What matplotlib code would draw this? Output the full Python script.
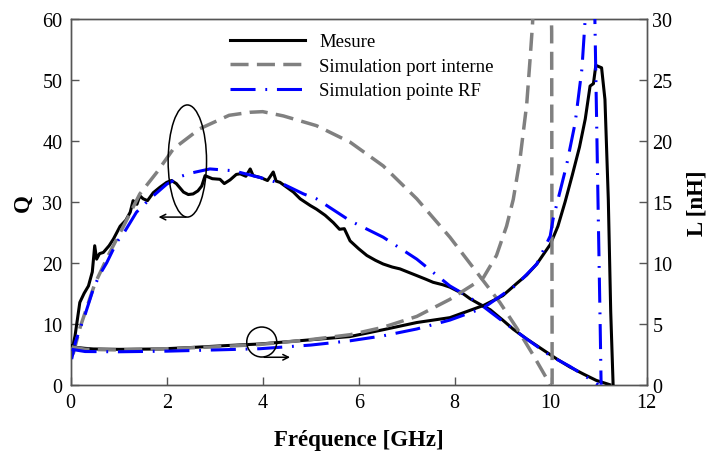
import matplotlib
matplotlib.use("Agg")
import matplotlib.pyplot as plt
from matplotlib.patches import Ellipse
from matplotlib.lines import Line2D

plt.rcParams['font.family'] = ['Liberation Serif', 'DejaVu Serif']

# ---------------- data ----------------
# Quality factor Q (left axis)
mes_q_f = [0.05, 0.09, 0.19, 0.28, 0.37, 0.45, 0.5, 0.54, 0.6, 0.68, 0.8, 0.89, 1.03, 1.15, 1.24,
           1.3, 1.38, 1.44, 1.51, 1.6, 1.72, 1.86, 2.0, 2.1, 2.2, 2.35, 2.45, 2.55, 2.65, 2.73, 2.8,
           2.95, 3.11, 3.2, 3.32, 3.45, 3.53, 3.65, 3.74, 3.8, 3.95, 4.1, 4.22, 4.28, 4.36, 4.5,
           4.64, 4.78, 4.99, 5.12, 5.3, 5.47, 5.6, 5.7, 5.82, 6.0, 6.17, 6.35, 6.51, 6.7, 6.86,
           7.05, 7.21, 7.4, 7.55, 7.75, 7.9, 8.05, 8.18, 8.32, 8.5, 8.74, 9.0, 9.22, 9.5, 9.71,
           9.9, 10.13, 10.4, 10.68, 10.95, 11.23]
mes_q = [6.5, 8.0, 13.5, 15.0, 16.2, 18.5, 22.8, 20.6, 21.5, 21.7, 22.8, 23.9, 26.0, 27.0, 28.3,
         30.2, 29.6, 31.0, 30.5, 30.2, 31.5, 32.4, 33.2, 33.5, 33.0, 31.6, 31.2, 31.3, 31.8, 32.6, 34.3,
         33.8, 33.7, 33.0, 33.6, 34.5, 34.6, 34.2, 35.4, 34.3, 34.0, 33.5, 34.9, 33.4, 33.2, 32.4,
         31.6, 30.5, 29.4, 28.8, 27.8, 26.6, 25.5, 25.6, 23.6, 22.3, 21.2, 20.4, 19.8, 19.3, 19.0,
         18.4, 17.9, 17.3, 16.8, 16.4, 16.0, 15.4, 14.9, 14.1, 13.3, 12.3, 10.6, 9.1, 7.5, 6.4,
         5.4, 4.2, 2.9, 1.75, 0.7, 0.0]

port_q_f = [0.05, 0.2, 0.5, 0.8, 1.1, 1.44, 1.79, 2.14, 2.69, 3.3, 3.74, 4.0, 4.43, 5.12, 5.82,
            6.51, 7.21, 7.9, 8.6, 8.94, 9.3, 9.64, 9.99]
port_q = [5.0, 9.5, 16.5, 21.5, 26.0, 31.3, 34.8, 38.7, 42.0, 44.2, 44.7, 44.8, 44.1, 42.5, 39.8,
          35.9, 30.5, 24.2, 17.0, 13.5, 9.2, 4.8, 0.0]

rf_q_f = [0.02, 0.1, 0.19, 0.3, 0.47, 0.6, 0.75, 0.96, 1.1, 1.37, 1.65, 2.0, 2.3, 2.55, 2.9, 3.39,
          3.94, 4.43, 4.85, 5.12, 5.82, 6.51, 7.21, 7.9, 8.25, 8.6, 9.0, 9.5, 10.0, 10.4, 10.7, 10.99]
rf_q = [4.2, 7.0, 9.1, 11.5, 15.7, 18.0, 20.0, 23.4, 24.8, 28.3, 30.5, 32.9, 34.2, 34.8, 35.4, 35.1,
        34.0, 32.9, 31.3, 30.5, 26.9, 24.2, 20.6, 16.2, 14.6, 12.8, 10.4, 7.5, 4.7, 3.0, 1.5, 0.0]

# Inductance L [nH] (right axis)
mes_l_f = [0.02, 0.09, 0.3, 0.47, 1.0, 1.86, 2.5, 3.2, 3.94, 4.6, 5.2, 5.82, 6.5, 7.21, 7.9, 8.6,
           9.0, 9.29, 9.5, 9.71, 9.99, 10.15, 10.3, 10.45, 10.6, 10.72, 10.82, 10.89, 10.94, 11.06,
           11.13, 11.2, 11.25, 11.3]
mes_l = [3.2, 3.07, 2.98, 2.93, 2.9, 2.93, 3.05, 3.2, 3.34, 3.55, 3.75, 3.95, 4.5, 5.1, 5.5, 6.5,
         7.3, 8.3, 9.0, 9.9, 11.5, 13.0, 15.0, 17.2, 19.5, 21.8, 24.5, 24.7, 26.2, 26.0,
         23.4, 15.2, 6.0, 0.0]

port_l_f = [0.02, 0.3, 1.0, 2.0, 3.0, 3.94, 5.0, 5.82, 6.5, 7.21, 7.9, 8.46, 8.6, 8.87, 9.08, 9.22,
            9.36, 9.5, 9.57, 9.62, 9.66, 10.0, 10.02, 10.03]
port_l = [3.1, 2.9, 2.85, 2.95, 3.1, 3.3, 3.7, 4.1, 4.7, 5.6, 7.0, 8.4, 8.8, 10.6, 13.0, 15.2,
          18.5, 23.0, 26.7, 29.5, 33.0, 33.0, 29.0, 0.0]

rf_l_f = [0.02, 0.3, 1.0, 2.0, 3.0, 3.94, 5.0, 5.82, 6.5, 7.21, 7.9, 8.6, 9.29, 9.71, 9.99, 10.05,
          10.33, 10.51, 10.65, 10.71, 10.76, 10.9, 10.92, 10.99, 11.03, 11.05]
rf_l = [2.9, 2.72, 2.7, 2.75, 2.85, 2.95, 3.25, 3.6, 4.0, 4.57, 5.3, 6.3, 8.2, 9.9, 12.2, 13.6,
        18.0, 21.5, 25.9, 29.5, 33.0, 33.0, 30.0, 14.0, 5.0, 0.0]

labels = ["Mesure", "Simulation port interne", "Simulation pointe RF"]
x_ticks = [0, 2, 4, 6, 8, 10, 12]
q_ticks = [0, 10, 20, 30, 40, 50, 60]
l_ticks = [0, 5, 10, 15, 20, 25, 30]

# ---------------- styles ----------------
c_mes, c_port, c_rf = "black", "#808080", "#0000ff"
lw_mes, lw_port, lw_rf = 2.2, 2.5, 2.2
dash_port = (5.2, 2.4)
dash_rf = (8.2, 3.2, 0.6, 3.2)

fig = plt.figure(figsize=(7.12, 4.56), dpi=100)
ax = fig.add_axes([0.0993, 0.1542, 0.8090, 0.8019])
ax2 = ax.twinx()

spine_c = "#555555"

# Q curves
ax.plot(mes_q_f, mes_q, color=c_mes, lw=lw_mes, zorder=3)
ax.plot(port_q_f, port_q, color=c_port, lw=lw_port, dashes=dash_port, zorder=4)
ax.plot(rf_q_f, rf_q, color=c_rf, lw=lw_rf, dashes=dash_rf, zorder=5)
# L curves
ax2.plot(mes_l_f, mes_l, color=c_mes, lw=lw_mes, zorder=3)
ax2.plot(port_l_f, port_l, color=c_port, lw=lw_port, dashes=dash_port, zorder=4)
ax2.plot(rf_l_f, rf_l, color=c_rf, lw=lw_rf, dashes=dash_rf, zorder=5)

ax.set_xlim(0, 12)
ax.set_ylim(0, 60)
ax2.set_ylim(0, 30)
ax.set_xticks(x_ticks)
ax.set_yticks(q_ticks)
ax2.set_yticks(l_ticks)

for a in (ax, ax2):
    for s in a.spines.values():
        s.set_color(spine_c)
        s.set_linewidth(1.0)
ax.tick_params(axis='both', direction='in', length=6, width=1, color=spine_c,
               labelsize=14.5, pad=6, top=False, right=False)
ax2.tick_params(axis='y', direction='in', length=6, width=1, color=spine_c,
                labelsize=14.5, pad=4)

ax.set_xlabel("Fréquence [GHz]", fontsize=16.5, fontweight='bold', labelpad=12)
ax.set_ylabel("Q", fontsize=16.5, fontweight='bold', labelpad=6)
ax2.set_ylabel("L [nH]", fontsize=16.5, fontweight='bold', labelpad=10)

# annotations
ax2.add_patch(Ellipse((2.43, 36.7 / 2), 0.8, 18.4 / 2, fill=False, ec='black', lw=1.1, zorder=6))
ax2.annotate('', xy=(1.83, 27.5 / 2), xytext=(2.4, 27.5 / 2),
             arrowprops=dict(arrowstyle='->', lw=1.1, color='black',
                             shrinkA=0, shrinkB=0), zorder=6)
ax2.add_patch(Ellipse((3.98, 7.0 / 2), 0.625, 4.92 / 2, fill=False, ec='black', lw=1.1, zorder=6))
ax2.annotate('', xy=(4.57, 4.5 / 2), xytext=(4.03, 4.5 / 2),
             arrowprops=dict(arrowstyle='->', lw=1.1, color='black',
                             shrinkA=0, shrinkB=0), zorder=6)

handles = [Line2D([], [], color=c_mes, lw=lw_mes),
           Line2D([], [], color=c_port, lw=lw_port, dashes=dash_port),
           Line2D([], [], color=c_rf, lw=lw_rf, dashes=dash_rf)]
leg = ax2.legend(handles, labels, loc='upper left', bbox_to_anchor=(230 / 712, 1 - 34 / 456),
                 bbox_transform=fig.transFigure, frameon=False, fontsize=13.5,
                 handlelength=4.0, handletextpad=0.75, labelspacing=0.4,
                 borderpad=0, borderaxespad=0)

fig.savefig("out.png", dpi=100)
